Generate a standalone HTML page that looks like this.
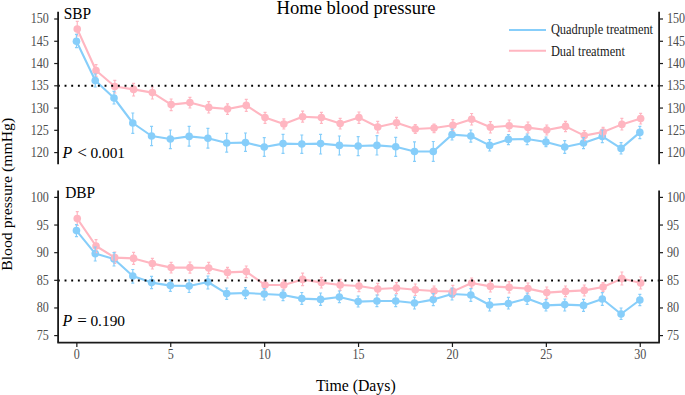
<!DOCTYPE html>
<html><head><meta charset="utf-8"><style>
html,body{margin:0;padding:0;background:#fff;}
body{width:685px;height:395px;overflow:hidden;}
svg{display:block;}
text{font-family:"Liberation Serif",serif;}
.tk{font-size:12.1px;fill:#4d4d4d;}
.lab{font-size:15.4px;fill:#000;}
.pv{font-size:15.9px;}
.ttl{font-size:18.6px;fill:#000;}
.axt{font-size:15.8px;fill:#000;}
.yt{font-size:15px;}
.leg{font-size:12.4px;fill:#1a1a1a;}
</style></head><body>
<svg width="685" height="395" viewBox="0 0 685 395">
<polyline points="76.45,41.2 95.23,80.5 114.01,98 132.79,123 151.57,136 170.35,139 189.13,136.4 207.91,138.2 226.69,143 245.47,142.6 264.25,147 283.03,143.6 301.81,144 320.59,143.6 339.37,145.4 358.15,146 376.93,145.4 395.71,146.8 414.49,151.5 433.27,151.5 452.05,134.6 470.83,136 489.61,145.4 508.39,139.4 527.17,139 545.95,142 564.73,147 583.51,143 602.29,136.4 621.07,148.4 639.85,132.4" fill="none" stroke="#87CEFA" stroke-width="2.1" stroke-linejoin="round" stroke-linecap="round"/>
<polyline points="77.25,29 96.03,70.5 114.81,86.5 133.59,89.4 152.37,92.6 171.15,104.6 189.93,102.6 208.71,107.4 227.49,109 246.27,105.4 265.05,117.6 283.83,124 302.61,116.8 321.39,117.6 340.17,123.6 358.95,117.6 377.73,127 396.51,122.8 415.29,129 434.07,128 452.85,125.2 471.63,119.2 490.41,127.2 509.19,125.8 527.97,127.6 546.75,130 565.53,126.4 584.31,135.6 603.09,132 621.87,124.4 640.65,118.6" fill="none" stroke="#FFB6C1" stroke-width="2.1" stroke-linejoin="round" stroke-linecap="round"/>
<circle cx="76.45" cy="41.2" r="3.8" fill="#87CEFA"/><circle cx="95.23" cy="80.5" r="3.8" fill="#87CEFA"/><circle cx="114.01" cy="98" r="3.8" fill="#87CEFA"/><circle cx="132.79" cy="123" r="3.8" fill="#87CEFA"/><circle cx="151.57" cy="136" r="3.8" fill="#87CEFA"/><circle cx="170.35" cy="139" r="3.8" fill="#87CEFA"/><circle cx="189.13" cy="136.4" r="3.8" fill="#87CEFA"/><circle cx="207.91" cy="138.2" r="3.8" fill="#87CEFA"/><circle cx="226.69" cy="143" r="3.8" fill="#87CEFA"/><circle cx="245.47" cy="142.6" r="3.8" fill="#87CEFA"/><circle cx="264.25" cy="147" r="3.8" fill="#87CEFA"/><circle cx="283.03" cy="143.6" r="3.8" fill="#87CEFA"/><circle cx="301.81" cy="144" r="3.8" fill="#87CEFA"/><circle cx="320.59" cy="143.6" r="3.8" fill="#87CEFA"/><circle cx="339.37" cy="145.4" r="3.8" fill="#87CEFA"/><circle cx="358.15" cy="146" r="3.8" fill="#87CEFA"/><circle cx="376.93" cy="145.4" r="3.8" fill="#87CEFA"/><circle cx="395.71" cy="146.8" r="3.8" fill="#87CEFA"/><circle cx="414.49" cy="151.5" r="3.8" fill="#87CEFA"/><circle cx="433.27" cy="151.5" r="3.8" fill="#87CEFA"/><circle cx="452.05" cy="134.6" r="3.8" fill="#87CEFA"/><circle cx="470.83" cy="136" r="3.8" fill="#87CEFA"/><circle cx="489.61" cy="145.4" r="3.8" fill="#87CEFA"/><circle cx="508.39" cy="139.4" r="3.8" fill="#87CEFA"/><circle cx="527.17" cy="139" r="3.8" fill="#87CEFA"/><circle cx="545.95" cy="142" r="3.8" fill="#87CEFA"/><circle cx="564.73" cy="147" r="3.8" fill="#87CEFA"/><circle cx="583.51" cy="143" r="3.8" fill="#87CEFA"/><circle cx="602.29" cy="136.4" r="3.8" fill="#87CEFA"/><circle cx="621.07" cy="148.4" r="3.8" fill="#87CEFA"/><circle cx="639.85" cy="132.4" r="3.8" fill="#87CEFA"/>
<circle cx="77.25" cy="29" r="3.8" fill="#FFB6C1"/><circle cx="96.03" cy="70.5" r="3.8" fill="#FFB6C1"/><circle cx="114.81" cy="86.5" r="3.8" fill="#FFB6C1"/><circle cx="133.59" cy="89.4" r="3.8" fill="#FFB6C1"/><circle cx="152.37" cy="92.6" r="3.8" fill="#FFB6C1"/><circle cx="171.15" cy="104.6" r="3.8" fill="#FFB6C1"/><circle cx="189.93" cy="102.6" r="3.8" fill="#FFB6C1"/><circle cx="208.71" cy="107.4" r="3.8" fill="#FFB6C1"/><circle cx="227.49" cy="109" r="3.8" fill="#FFB6C1"/><circle cx="246.27" cy="105.4" r="3.8" fill="#FFB6C1"/><circle cx="265.05" cy="117.6" r="3.8" fill="#FFB6C1"/><circle cx="283.83" cy="124" r="3.8" fill="#FFB6C1"/><circle cx="302.61" cy="116.8" r="3.8" fill="#FFB6C1"/><circle cx="321.39" cy="117.6" r="3.8" fill="#FFB6C1"/><circle cx="340.17" cy="123.6" r="3.8" fill="#FFB6C1"/><circle cx="358.95" cy="117.6" r="3.8" fill="#FFB6C1"/><circle cx="377.73" cy="127" r="3.8" fill="#FFB6C1"/><circle cx="396.51" cy="122.8" r="3.8" fill="#FFB6C1"/><circle cx="415.29" cy="129" r="3.8" fill="#FFB6C1"/><circle cx="434.07" cy="128" r="3.8" fill="#FFB6C1"/><circle cx="452.85" cy="125.2" r="3.8" fill="#FFB6C1"/><circle cx="471.63" cy="119.2" r="3.8" fill="#FFB6C1"/><circle cx="490.41" cy="127.2" r="3.8" fill="#FFB6C1"/><circle cx="509.19" cy="125.8" r="3.8" fill="#FFB6C1"/><circle cx="527.97" cy="127.6" r="3.8" fill="#FFB6C1"/><circle cx="546.75" cy="130" r="3.8" fill="#FFB6C1"/><circle cx="565.53" cy="126.4" r="3.8" fill="#FFB6C1"/><circle cx="584.31" cy="135.6" r="3.8" fill="#FFB6C1"/><circle cx="603.09" cy="132" r="3.8" fill="#FFB6C1"/><circle cx="621.87" cy="124.4" r="3.8" fill="#FFB6C1"/><circle cx="640.65" cy="118.6" r="3.8" fill="#FFB6C1"/>
<path d="M77.25 21.4V36M75.75 21.4H78.75M75.75 36H78.75M96.03 64.6V76.4M94.53 64.6H97.53M94.53 76.4H97.53M114.81 80.3V93M113.31 80.3H116.31M113.31 93H116.31M133.59 83.4V96M132.09 83.4H135.09M132.09 96H135.09M152.37 87V99M150.87 87H153.87M150.87 99H153.87M171.15 99V110.6M169.65 99H172.65M169.65 110.6H172.65M189.93 97.4V108M188.43 97.4H191.43M188.43 108H191.43M208.71 101.6V113M207.21 101.6H210.21M207.21 113H210.21M227.49 103.8V114.4M225.99 103.8H228.99M225.99 114.4H228.99M246.27 99.4V111.4M244.77 99.4H247.77M244.77 111.4H247.77M265.05 112.4V123.4M263.55 112.4H266.55M263.55 123.4H266.55M283.83 118.8V129M282.33 118.8H285.33M282.33 129H285.33M302.61 111.2V122.2M301.11 111.2H304.11M301.11 122.2H304.11M321.39 112.4V123.4M319.89 112.4H322.89M319.89 123.4H322.89M340.17 118.4V129M338.67 118.4H341.67M338.67 129H341.67M358.95 112V123.4M357.45 112H360.45M357.45 123.4H360.45M377.73 121.4V133M376.23 121.4H379.23M376.23 133H379.23M396.51 117.4V128.2M395.01 117.4H398.01M395.01 128.2H398.01M415.29 124.6V133.5M413.79 124.6H416.79M413.79 133.5H416.79M434.07 124V132.6M432.57 124H435.57M432.57 132.6H435.57M452.85 119.6V130.6M451.35 119.6H454.35M451.35 130.6H454.35M471.63 113.5V125M470.13 113.5H473.13M470.13 125H473.13M490.41 121.6V133M488.91 121.6H491.91M488.91 133H491.91M509.19 120V131.4M507.69 120H510.69M507.69 131.4H510.69M527.97 122V133M526.47 122H529.47M526.47 133H529.47M546.75 125V135M545.25 125H548.25M545.25 135H548.25M565.53 121.4V131.6M564.03 121.4H567.03M564.03 131.6H567.03M584.31 130.6V140.6M582.81 130.6H585.81M582.81 140.6H585.81M603.09 127.4V137M601.59 127.4H604.59M601.59 137H604.59M621.87 118.4V130M620.37 118.4H623.37M620.37 130H623.37M640.65 113.4V124M639.15 113.4H642.15M639.15 124H642.15" fill="none" stroke="#FFB6C1" stroke-width="1.2"/>
<path d="M76.45 34.4V47.6M74.95 34.4H77.95M74.95 47.6H77.95M95.23 74V87M93.73 74H96.73M93.73 87H96.73M114.01 91.4V104M112.51 91.4H115.51M112.51 104H115.51M132.79 113V133.4M131.29 113H134.29M131.29 133.4H134.29M151.57 126.4V145.6M150.07 126.4H153.07M150.07 145.6H153.07M170.35 130V148.6M168.85 130H171.85M168.85 148.6H171.85M189.13 126.4V146.2M187.63 126.4H190.63M187.63 146.2H190.63M207.91 128.4V148.2M206.41 128.4H209.41M206.41 148.2H209.41M226.69 133.4V152.2M225.19 133.4H228.19M225.19 152.2H228.19M245.47 133V151.4M243.97 133H246.97M243.97 151.4H246.97M264.25 137.6V156.4M262.75 137.6H265.75M262.75 156.4H265.75M283.03 134.4V153.4M281.53 134.4H284.53M281.53 153.4H284.53M301.81 135V153.4M300.31 135H303.31M300.31 153.4H303.31M320.59 134.4V154M319.09 134.4H322.09M319.09 154H322.09M339.37 136V155M337.87 136H340.87M337.87 155H340.87M358.15 136.6V155.6M356.65 136.6H359.65M356.65 155.6H359.65M376.93 135.6V155M375.43 135.6H378.43M375.43 155H378.43M395.71 137.4V156.4M394.21 137.4H397.21M394.21 156.4H397.21M414.49 141.8V161.4M412.99 141.8H415.99M412.99 161.4H415.99M433.27 141.5V161.4M431.77 141.5H434.77M431.77 161.4H434.77M452.05 129.2V140M450.55 129.2H453.55M450.55 140H453.55M470.83 130V142.1M469.33 130H472.33M469.33 142.1H472.33M489.61 139.6V151M488.11 139.6H491.11M488.11 151H491.11M508.39 134.6V144.6M506.89 134.6H509.89M506.89 144.6H509.89M527.17 134V144.6M525.67 134H528.67M525.67 144.6H528.67M545.95 137V146.6M544.45 137H547.45M544.45 146.6H547.45M564.73 140.6V153.4M563.23 140.6H566.23M563.23 153.4H566.23M583.51 137.6V148.6M582.01 137.6H585.01M582.01 148.6H585.01M602.29 130V142.6M600.79 130H603.79M600.79 142.6H603.79M621.07 142.6V154M619.57 142.6H622.57M619.57 154H622.57M639.85 126.4V138.6M638.35 126.4H641.35M638.35 138.6H641.35" fill="none" stroke="#87CEFA" stroke-width="1.2"/>
<line x1="57.9" y1="85.7" x2="659" y2="85.7" stroke="#000" stroke-width="1.9" stroke-dasharray="1.9 4.765" />
<line x1="58.1" y1="11.8" x2="58.1" y2="164.3" stroke="#1a1a1a" stroke-width="1.8"/>
<line x1="659.1" y1="11.8" x2="659.1" y2="164.3" stroke="#1a1a1a" stroke-width="1.8"/>
<line x1="54.2" y1="19" x2="58.1" y2="19" stroke="#1a1a1a" stroke-width="1.2"/>
<line x1="659.1" y1="19" x2="663" y2="19" stroke="#1a1a1a" stroke-width="1.2"/>
<text transform="translate(48.9 19) scale(1 1.12)" y="4" text-anchor="end" class="tk">150</text>
<text transform="translate(667 19) scale(1 1.12)" y="4" class="tk">150</text>
<line x1="54.2" y1="41.27" x2="58.1" y2="41.27" stroke="#1a1a1a" stroke-width="1.2"/>
<line x1="659.1" y1="41.27" x2="663" y2="41.27" stroke="#1a1a1a" stroke-width="1.2"/>
<text transform="translate(48.9 41.27) scale(1 1.12)" y="4" text-anchor="end" class="tk">145</text>
<text transform="translate(667 41.27) scale(1 1.12)" y="4" class="tk">145</text>
<line x1="54.2" y1="63.53" x2="58.1" y2="63.53" stroke="#1a1a1a" stroke-width="1.2"/>
<line x1="659.1" y1="63.53" x2="663" y2="63.53" stroke="#1a1a1a" stroke-width="1.2"/>
<text transform="translate(48.9 63.53) scale(1 1.12)" y="4" text-anchor="end" class="tk">140</text>
<text transform="translate(667 63.53) scale(1 1.12)" y="4" class="tk">140</text>
<line x1="54.2" y1="85.8" x2="58.1" y2="85.8" stroke="#1a1a1a" stroke-width="1.2"/>
<line x1="659.1" y1="85.8" x2="663" y2="85.8" stroke="#1a1a1a" stroke-width="1.2"/>
<text transform="translate(48.9 85.8) scale(1 1.12)" y="4" text-anchor="end" class="tk">135</text>
<text transform="translate(667 85.8) scale(1 1.12)" y="4" class="tk">135</text>
<line x1="54.2" y1="108.06" x2="58.1" y2="108.06" stroke="#1a1a1a" stroke-width="1.2"/>
<line x1="659.1" y1="108.06" x2="663" y2="108.06" stroke="#1a1a1a" stroke-width="1.2"/>
<text transform="translate(48.9 108.06) scale(1 1.12)" y="4" text-anchor="end" class="tk">130</text>
<text transform="translate(667 108.06) scale(1 1.12)" y="4" class="tk">130</text>
<line x1="54.2" y1="130.32" x2="58.1" y2="130.32" stroke="#1a1a1a" stroke-width="1.2"/>
<line x1="659.1" y1="130.32" x2="663" y2="130.32" stroke="#1a1a1a" stroke-width="1.2"/>
<text transform="translate(48.9 130.32) scale(1 1.12)" y="4" text-anchor="end" class="tk">125</text>
<text transform="translate(667 130.32) scale(1 1.12)" y="4" class="tk">125</text>
<line x1="54.2" y1="152.59" x2="58.1" y2="152.59" stroke="#1a1a1a" stroke-width="1.2"/>
<line x1="659.1" y1="152.59" x2="663" y2="152.59" stroke="#1a1a1a" stroke-width="1.2"/>
<text transform="translate(48.9 152.59) scale(1 1.12)" y="4" text-anchor="end" class="tk">120</text>
<text transform="translate(667 152.59) scale(1 1.12)" y="4" class="tk">120</text>
<polyline points="76.45,230.6 95.23,253.6 114.01,259 132.79,276 151.57,282.6 170.35,285.6 189.13,286 207.91,282 226.69,293.6 245.47,293 264.25,294 283.03,295 301.81,298.6 320.59,299.4 339.37,297 358.15,301.6 376.93,301 395.71,301 414.49,303 433.27,299.6 452.05,294 470.83,295 489.61,305 508.39,303.6 527.17,298.6 545.95,305.4 564.73,304.6 583.51,305.4 602.29,299 621.07,314 639.85,300" fill="none" stroke="#87CEFA" stroke-width="2.1" stroke-linejoin="round" stroke-linecap="round"/>
<polyline points="77.25,218.6 96.03,246 114.81,257.6 133.59,258.4 152.37,263.6 171.15,267.6 189.93,267.5 208.71,268 227.49,272.4 246.27,271.6 265.05,285 283.83,285 302.61,279.4 321.39,282.6 340.17,285 358.95,286 377.73,289 396.51,288 415.29,289.8 434.07,291 452.85,291.4 471.63,283 490.41,286.4 509.19,287.4 527.97,288.6 546.75,292.6 565.53,291.4 584.31,290.4 603.09,287 621.87,278.6 640.65,283" fill="none" stroke="#FFB6C1" stroke-width="2.1" stroke-linejoin="round" stroke-linecap="round"/>
<circle cx="76.45" cy="230.6" r="3.8" fill="#87CEFA"/><circle cx="95.23" cy="253.6" r="3.8" fill="#87CEFA"/><circle cx="114.01" cy="259" r="3.8" fill="#87CEFA"/><circle cx="132.79" cy="276" r="3.8" fill="#87CEFA"/><circle cx="151.57" cy="282.6" r="3.8" fill="#87CEFA"/><circle cx="170.35" cy="285.6" r="3.8" fill="#87CEFA"/><circle cx="189.13" cy="286" r="3.8" fill="#87CEFA"/><circle cx="207.91" cy="282" r="3.8" fill="#87CEFA"/><circle cx="226.69" cy="293.6" r="3.8" fill="#87CEFA"/><circle cx="245.47" cy="293" r="3.8" fill="#87CEFA"/><circle cx="264.25" cy="294" r="3.8" fill="#87CEFA"/><circle cx="283.03" cy="295" r="3.8" fill="#87CEFA"/><circle cx="301.81" cy="298.6" r="3.8" fill="#87CEFA"/><circle cx="320.59" cy="299.4" r="3.8" fill="#87CEFA"/><circle cx="339.37" cy="297" r="3.8" fill="#87CEFA"/><circle cx="358.15" cy="301.6" r="3.8" fill="#87CEFA"/><circle cx="376.93" cy="301" r="3.8" fill="#87CEFA"/><circle cx="395.71" cy="301" r="3.8" fill="#87CEFA"/><circle cx="414.49" cy="303" r="3.8" fill="#87CEFA"/><circle cx="433.27" cy="299.6" r="3.8" fill="#87CEFA"/><circle cx="452.05" cy="294" r="3.8" fill="#87CEFA"/><circle cx="470.83" cy="295" r="3.8" fill="#87CEFA"/><circle cx="489.61" cy="305" r="3.8" fill="#87CEFA"/><circle cx="508.39" cy="303.6" r="3.8" fill="#87CEFA"/><circle cx="527.17" cy="298.6" r="3.8" fill="#87CEFA"/><circle cx="545.95" cy="305.4" r="3.8" fill="#87CEFA"/><circle cx="564.73" cy="304.6" r="3.8" fill="#87CEFA"/><circle cx="583.51" cy="305.4" r="3.8" fill="#87CEFA"/><circle cx="602.29" cy="299" r="3.8" fill="#87CEFA"/><circle cx="621.07" cy="314" r="3.8" fill="#87CEFA"/><circle cx="639.85" cy="300" r="3.8" fill="#87CEFA"/>
<circle cx="77.25" cy="218.6" r="3.8" fill="#FFB6C1"/><circle cx="96.03" cy="246" r="3.8" fill="#FFB6C1"/><circle cx="114.81" cy="257.6" r="3.8" fill="#FFB6C1"/><circle cx="133.59" cy="258.4" r="3.8" fill="#FFB6C1"/><circle cx="152.37" cy="263.6" r="3.8" fill="#FFB6C1"/><circle cx="171.15" cy="267.6" r="3.8" fill="#FFB6C1"/><circle cx="189.93" cy="267.5" r="3.8" fill="#FFB6C1"/><circle cx="208.71" cy="268" r="3.8" fill="#FFB6C1"/><circle cx="227.49" cy="272.4" r="3.8" fill="#FFB6C1"/><circle cx="246.27" cy="271.6" r="3.8" fill="#FFB6C1"/><circle cx="265.05" cy="285" r="3.8" fill="#FFB6C1"/><circle cx="283.83" cy="285" r="3.8" fill="#FFB6C1"/><circle cx="302.61" cy="279.4" r="3.8" fill="#FFB6C1"/><circle cx="321.39" cy="282.6" r="3.8" fill="#FFB6C1"/><circle cx="340.17" cy="285" r="3.8" fill="#FFB6C1"/><circle cx="358.95" cy="286" r="3.8" fill="#FFB6C1"/><circle cx="377.73" cy="289" r="3.8" fill="#FFB6C1"/><circle cx="396.51" cy="288" r="3.8" fill="#FFB6C1"/><circle cx="415.29" cy="289.8" r="3.8" fill="#FFB6C1"/><circle cx="434.07" cy="291" r="3.8" fill="#FFB6C1"/><circle cx="452.85" cy="291.4" r="3.8" fill="#FFB6C1"/><circle cx="471.63" cy="283" r="3.8" fill="#FFB6C1"/><circle cx="490.41" cy="286.4" r="3.8" fill="#FFB6C1"/><circle cx="509.19" cy="287.4" r="3.8" fill="#FFB6C1"/><circle cx="527.97" cy="288.6" r="3.8" fill="#FFB6C1"/><circle cx="546.75" cy="292.6" r="3.8" fill="#FFB6C1"/><circle cx="565.53" cy="291.4" r="3.8" fill="#FFB6C1"/><circle cx="584.31" cy="290.4" r="3.8" fill="#FFB6C1"/><circle cx="603.09" cy="287" r="3.8" fill="#FFB6C1"/><circle cx="621.87" cy="278.6" r="3.8" fill="#FFB6C1"/><circle cx="640.65" cy="283" r="3.8" fill="#FFB6C1"/>
<path d="M77.25 211.6V225.4M75.75 211.6H78.75M75.75 225.4H78.75M96.03 239.6V252.6M94.53 239.6H97.53M94.53 252.6H97.53M114.81 252V263.4M113.31 252H116.31M113.31 263.4H116.31M133.59 252.4V264.4M132.09 252.4H135.09M132.09 264.4H135.09M152.37 258.4V269M150.87 258.4H153.87M150.87 269H153.87M171.15 262.4V273M169.65 262.4H172.65M169.65 273H172.65M189.93 262V273.2M188.43 262H191.43M188.43 273.2H191.43M208.71 262.4V273.6M207.21 262.4H210.21M207.21 273.6H210.21M227.49 267.4V278M225.99 267.4H228.99M225.99 278H228.99M246.27 266V277.6M244.77 266H247.77M244.77 277.6H247.77M265.05 280V290M263.55 280H266.55M263.55 290H266.55M283.83 280V290M282.33 280H285.33M282.33 290H285.33M302.61 273.2V285.6M301.11 273.2H304.11M301.11 285.6H304.11M321.39 277.4V288M319.89 277.4H322.89M319.89 288H322.89M340.17 279.4V290.4M338.67 279.4H341.67M338.67 290.4H341.67M358.95 280.6V291.6M357.45 280.6H360.45M357.45 291.6H360.45M377.73 283.4V295M376.23 283.4H379.23M376.23 295H379.23M396.51 282.6V293.6M395.01 282.6H398.01M395.01 293.6H398.01M415.29 284V295.5M413.79 284H416.79M413.79 295.5H416.79M434.07 286V296.4M432.57 286H435.57M432.57 296.4H435.57M452.85 285.4V297.4M451.35 285.4H454.35M451.35 297.4H454.35M471.63 278V288M470.13 278H473.13M470.13 288H473.13M490.41 281V292M488.91 281H491.91M488.91 292H491.91M509.19 281.6V293M507.69 281.6H510.69M507.69 293H510.69M527.97 283V294M526.47 283H529.47M526.47 294H529.47M546.75 287V298.4M545.25 287H548.25M545.25 298.4H548.25M565.53 286V296.6M564.03 286H567.03M564.03 296.6H567.03M584.31 285V296M582.81 285H585.81M582.81 296H585.81M603.09 282.6V291.6M601.59 282.6H604.59M601.59 291.6H604.59M621.87 272V285M620.37 272H623.37M620.37 285H623.37M640.65 277V289M639.15 277H642.15M639.15 289H642.15" fill="none" stroke="#FFB6C1" stroke-width="1.2"/>
<path d="M76.45 224.6V236.6M74.95 224.6H77.95M74.95 236.6H77.95M95.23 247V261M93.73 247H96.73M93.73 261H96.73M114.01 252.6V266M112.51 252.6H115.51M112.51 266H115.51M132.79 269.5V283.2M131.29 269.5H134.29M131.29 283.2H134.29M151.57 276.4V288.6M150.07 276.4H153.07M150.07 288.6H153.07M170.35 279.6V291.4M168.85 279.6H171.85M168.85 291.4H171.85M189.13 279.8V292.5M187.63 279.8H190.63M187.63 292.5H190.63M207.91 276V289M206.41 276H209.41M206.41 289H209.41M226.69 288V299.4M225.19 288H228.19M225.19 299.4H228.19M245.47 287.6V298.6M243.97 287.6H246.97M243.97 298.6H246.97M264.25 288.6V300M262.75 288.6H265.75M262.75 300H265.75M283.03 290V300.6M281.53 290H284.53M281.53 300.6H284.53M301.81 292.5V304.4M300.31 292.5H303.31M300.31 304.4H303.31M320.59 293V305.4M319.09 293H322.09M319.09 305.4H322.09M339.37 291V302.6M337.87 291H340.87M337.87 302.6H340.87M358.15 296V307M356.65 296H359.65M356.65 307H359.65M376.93 295V306.6M375.43 295H378.43M375.43 306.6H378.43M395.71 295V306.6M394.21 295H397.21M394.21 306.6H397.21M414.49 297.2V309M412.99 297.2H415.99M412.99 309H415.99M433.27 293.6V305.6M431.77 293.6H434.77M431.77 305.6H434.77M452.05 288V300M450.55 288H453.55M450.55 300H453.55M470.83 288.6V301.4M469.33 288.6H472.33M469.33 301.4H472.33M489.61 298.6V311M488.11 298.6H491.11M488.11 311H491.11M508.39 297.4V309M506.89 297.4H509.89M506.89 309H509.89M527.17 293V304.4M525.67 293H528.67M525.67 304.4H528.67M545.95 299.6V311M544.45 299.6H547.45M544.45 311H547.45M564.73 299V311M563.23 299H566.23M563.23 311H566.23M583.51 299.4V311.4M582.01 299.4H585.01M582.01 311.4H585.01M602.29 292.6V305.4M600.79 292.6H603.79M600.79 305.4H603.79M621.07 308V319.5M619.57 308H622.57M619.57 319.5H622.57M639.85 294.4V305.6M638.35 294.4H641.35M638.35 305.6H641.35" fill="none" stroke="#87CEFA" stroke-width="1.2"/>
<line x1="57.9" y1="280.5" x2="659" y2="280.5" stroke="#000" stroke-width="1.9" stroke-dasharray="1.9 4.765" />
<line x1="58.1" y1="190.4" x2="58.1" y2="342.4" stroke="#1a1a1a" stroke-width="1.8"/>
<line x1="659.1" y1="190.4" x2="659.1" y2="342.4" stroke="#1a1a1a" stroke-width="1.8"/>
<line x1="54.2" y1="197.4" x2="58.1" y2="197.4" stroke="#1a1a1a" stroke-width="1.2"/>
<line x1="659.1" y1="197.4" x2="663" y2="197.4" stroke="#1a1a1a" stroke-width="1.2"/>
<text transform="translate(48.9 197.4) scale(1 1.12)" y="4" text-anchor="end" class="tk">100</text>
<text transform="translate(667 197.4) scale(1 1.12)" y="4" class="tk">100</text>
<line x1="54.2" y1="225.04" x2="58.1" y2="225.04" stroke="#1a1a1a" stroke-width="1.2"/>
<line x1="659.1" y1="225.04" x2="663" y2="225.04" stroke="#1a1a1a" stroke-width="1.2"/>
<text transform="translate(48.9 225.04) scale(1 1.12)" y="4" text-anchor="end" class="tk">95</text>
<text transform="translate(667 225.04) scale(1 1.12)" y="4" class="tk">95</text>
<line x1="54.2" y1="252.68" x2="58.1" y2="252.68" stroke="#1a1a1a" stroke-width="1.2"/>
<line x1="659.1" y1="252.68" x2="663" y2="252.68" stroke="#1a1a1a" stroke-width="1.2"/>
<text transform="translate(48.9 252.68) scale(1 1.12)" y="4" text-anchor="end" class="tk">90</text>
<text transform="translate(667 252.68) scale(1 1.12)" y="4" class="tk">90</text>
<line x1="54.2" y1="280.32" x2="58.1" y2="280.32" stroke="#1a1a1a" stroke-width="1.2"/>
<line x1="659.1" y1="280.32" x2="663" y2="280.32" stroke="#1a1a1a" stroke-width="1.2"/>
<text transform="translate(48.9 280.32) scale(1 1.12)" y="4" text-anchor="end" class="tk">85</text>
<text transform="translate(667 280.32) scale(1 1.12)" y="4" class="tk">85</text>
<line x1="54.2" y1="307.96" x2="58.1" y2="307.96" stroke="#1a1a1a" stroke-width="1.2"/>
<line x1="659.1" y1="307.96" x2="663" y2="307.96" stroke="#1a1a1a" stroke-width="1.2"/>
<text transform="translate(48.9 307.96) scale(1 1.12)" y="4" text-anchor="end" class="tk">80</text>
<text transform="translate(667 307.96) scale(1 1.12)" y="4" class="tk">80</text>
<line x1="54.2" y1="335.6" x2="58.1" y2="335.6" stroke="#1a1a1a" stroke-width="1.2"/>
<line x1="659.1" y1="335.6" x2="663" y2="335.6" stroke="#1a1a1a" stroke-width="1.2"/>
<text transform="translate(48.9 335.6) scale(1 1.12)" y="4" text-anchor="end" class="tk">75</text>
<text transform="translate(667 335.6) scale(1 1.12)" y="4" class="tk">75</text>
<line x1="57.3" y1="342.6" x2="659.9" y2="342.6" stroke="#1a1a1a" stroke-width="1.8"/>
<line x1="76.85" y1="342.6" x2="76.85" y2="347" stroke="#1a1a1a" stroke-width="1.2"/>
<text transform="translate(76.85 359.4) scale(1 1.12)" text-anchor="middle" class="tk">0</text>
<line x1="170.75" y1="342.6" x2="170.75" y2="347" stroke="#1a1a1a" stroke-width="1.2"/>
<text transform="translate(170.75 359.4) scale(1 1.12)" text-anchor="middle" class="tk">5</text>
<line x1="264.65" y1="342.6" x2="264.65" y2="347" stroke="#1a1a1a" stroke-width="1.2"/>
<text transform="translate(264.65 359.4) scale(1 1.12)" text-anchor="middle" class="tk">10</text>
<line x1="358.55" y1="342.6" x2="358.55" y2="347" stroke="#1a1a1a" stroke-width="1.2"/>
<text transform="translate(358.55 359.4) scale(1 1.12)" text-anchor="middle" class="tk">15</text>
<line x1="452.45" y1="342.6" x2="452.45" y2="347" stroke="#1a1a1a" stroke-width="1.2"/>
<text transform="translate(452.45 359.4) scale(1 1.12)" text-anchor="middle" class="tk">20</text>
<line x1="546.35" y1="342.6" x2="546.35" y2="347" stroke="#1a1a1a" stroke-width="1.2"/>
<text transform="translate(546.35 359.4) scale(1 1.12)" text-anchor="middle" class="tk">25</text>
<line x1="640.25" y1="342.6" x2="640.25" y2="347" stroke="#1a1a1a" stroke-width="1.2"/>
<text transform="translate(640.25 359.4) scale(1 1.12)" text-anchor="middle" class="tk">30</text>
<text transform="translate(63.8 19.1) scale(1 1.08)" class="lab">SBP</text>
<text transform="translate(65.2 197.9) scale(1 1.08)" class="lab">DBP</text>
<text y="157.5" class="lab pv"><tspan x="62.4" font-style="italic">P</tspan><tspan x="77.2" font-size="17px">&lt;</tspan><tspan x="90.4" font-size="15.4px">0.001</tspan></text>
<text y="325.5" class="lab pv"><tspan x="62.4" font-style="italic">P</tspan><tspan x="77.2" font-size="17px">=</tspan><tspan x="90.4" font-size="15.4px">0.190</tspan></text>
<text x="356" y="13.7" text-anchor="middle" class="ttl">Home blood pressure</text>
<text x="355.8" y="391" text-anchor="middle" class="axt">Time (Days)</text>
<text transform="translate(11.9 194.3) rotate(-90) scale(1.05 1)" text-anchor="middle" class="axt yt">Blood pressure (mmHg)</text>
<line x1="509" y1="30" x2="546" y2="30" stroke="#87CEFA" stroke-width="2"/>
<line x1="509" y1="50.7" x2="546" y2="50.7" stroke="#FFB6C1" stroke-width="2"/>
<text transform="translate(550.9 34.3) scale(1 1.1)" class="leg">Quadruple treatment</text>
<text transform="translate(550.9 55.8) scale(1 1.1)" class="leg">Dual treatment</text>
</svg>
</body></html>
